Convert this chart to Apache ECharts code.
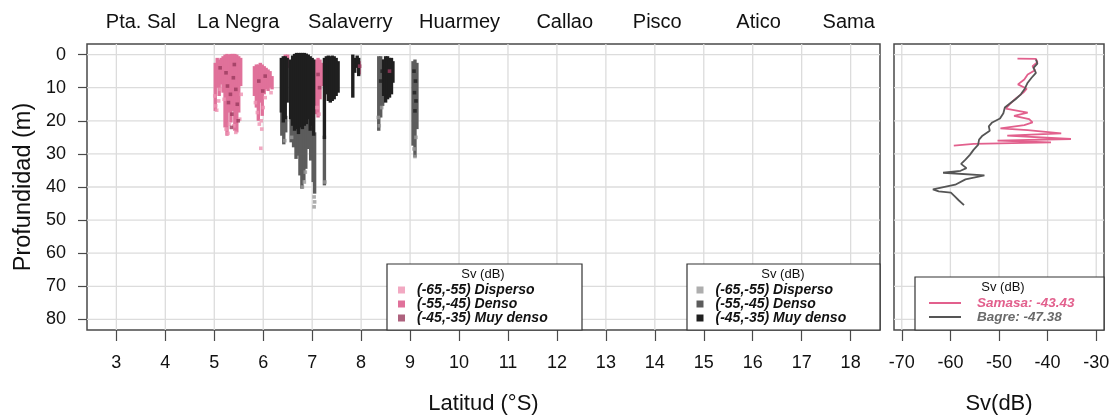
<!DOCTYPE html>
<html>
<head>
<meta charset="utf-8">
<script src="https://cdn.jsdelivr.net/npm/echarts@6/dist/echarts.min.js"></script>
<style>
  html, body { margin: 0; padding: 0; background: #fff; }
  #chart { width: 1110px; height: 416px; }
</style>
</head>
<body>
<div id="chart"></div>
<script>
// ---- tick values ----
const latTicks = [3, 4, 5, 6, 7, 8, 9, 10, 11, 12, 13, 14, 15, 16, 17, 18];
const depthTicks = [0, 10, 20, 30, 40, 50, 60, 70, 80];
const svTicks = [-70, -60, -50, -40, -30];

// ---- reference localities along the coast (label position in °S) ----
const siteNames = ['Pta. Sal', 'La Negra', 'Salaverry', 'Huarmey', 'Callao', 'Pisco', 'Atico', 'Sama'];
const siteLat = [3.50, 5.49, 7.78, 10.01, 12.16, 14.05, 16.12, 17.96];

// ---- Sv classes ----
const svClasses = ['(-65,-55) Disperso', '(-55,-45) Denso', '(-45,-35) Muy denso'];

// ---- Samasa echo columns: [lat °S, top depth m, bottom depth m] ----
const samasaDensoCols = [
  [5.02, 3.0, 16.5], [5.06, 1.5, 9.5], [5.10, 2.0, 12.0], [5.14, 1.5, 8.5], [5.18, 1.0, 11.0],
  [5.22, 0.5, 21.5], [5.26, 0.3, 24.0], [5.30, 0.5, 17.0], [5.34, 0.3, 20.0], [5.38, 0.3, 16.5],
  [5.42, 0.3, 22.5], [5.46, 0.5, 23.0], [5.50, 1.0, 17.0], [5.54, 1.5, 9.0],
  [5.82, 4.0, 12.0], [5.86, 3.5, 15.5], [5.90, 3.5, 19.5], [5.94, 3.0, 14.0], [5.98, 3.5, 18.0],
  [6.02, 4.0, 11.5], [6.06, 4.5, 10.0], [6.10, 5.0, 10.5], [6.14, 5.5, 9.5], [6.18, 7.0, 10.0],
  [6.45, 0.5, 3.0], [6.50, 0.5, 3.5],
  [7.08, 2.0, 17.5], [7.12, 1.5, 18.5], [7.16, 2.0, 13.0], [7.20, 3.0, 9.0],
  [7.96, 2.5, 5.5],
  [8.58, 3.0, 7.5]
];
// ---- Samasa isolated samples: [lat °S, depth m] ----
const samasaDispersoPts = [
  [5.01, 12.5], [5.03, 15.5], [5.05, 16.8], [5.09, 14.0], [5.12, 10.5], [5.20, 13.5], [5.24, 22.5],
  [5.28, 23.8], [5.31, 21.0], [5.40, 21.5], [5.44, 23.5], [5.52, 19.5], [5.55, 12.0], [5.84, 14.5],
  [5.88, 17.5], [5.92, 21.0], [5.96, 20.0], [5.97, 22.5], [5.95, 28.3], [6.00, 16.0], [6.04, 13.0],
  [6.16, 11.5], [7.10, 16.0], [7.14, 18.0]
];
const samasaMuyDensoPts = [
  [5.24, 5.5], [5.27, 9.5], [5.29, 14.5], [5.33, 12.0], [5.36, 18.0], [5.39, 7.0], [5.41, 3.0],
  [5.44, 10.5], [5.47, 15.0], [5.49, 20.0], [5.35, 22.0], [5.12, 4.0], [5.91, 8.0], [5.99, 11.0],
  [6.04, 6.5], [7.12, 6.0], [7.15, 10.0], [7.97, 3.5], [8.58, 5.0]
];

// ---- Bagre echo columns: [lat °S, top depth m, bottom depth m] ----
const bagreMuyDensoCols = [
  [6.37, 1.5, 17.0], [6.41, 1.0, 20.0], [6.45, 1.0, 19.0], [6.49, 1.5, 14.0],
  [6.56, 2.0, 19.0], [6.60, 0.8, 21.0], [6.64, 0.3, 22.5], [6.68, 0.0, 22.0], [6.72, 0.0, 23.5],
  [6.76, 0.0, 21.5], [6.80, 0.0, 22.0], [6.84, 0.0, 21.0], [6.88, 0.2, 20.5], [6.92, 0.5, 19.0],
  [6.96, 1.0, 22.5], [7.00, 1.5, 21.0], [7.03, 2.0, 24.0],
  [7.25, 1.5, 25.0], [7.29, 1.0, 11.5], [7.33, 0.8, 13.5], [7.37, 1.0, 14.0], [7.41, 0.8, 13.5],
  [7.45, 1.0, 13.0], [7.49, 1.5, 12.0], [7.53, 2.5, 11.0],
  [7.83, 0.5, 12.5], [7.87, 1.5, 5.0], [7.92, 0.8, 3.5], [7.95, 1.5, 6.0],
  [8.46, 2.0, 12.0], [8.50, 1.0, 14.0], [8.54, 1.0, 13.0], [8.58, 1.5, 12.5], [8.62, 1.5, 11.5], [8.65, 2.5, 8.0]
];
const bagreDensoCols = [
  [6.38, 17.0, 24.0], [6.42, 20.0, 26.6], [6.46, 19.0, 23.0],
  [6.57, 19.0, 26.0], [6.62, 21.0, 27.5], [6.67, 22.0, 31.0], [6.71, 23.0, 30.0], [6.75, 21.5, 36.0],
  [6.79, 22.0, 40.0], [6.83, 21.0, 37.5], [6.87, 20.5, 34.0], [6.91, 19.0, 28.0], [6.97, 22.5, 31.5],
  [7.02, 21.0, 38.0], [7.05, 24.0, 41.5],
  [7.25, 25.0, 39.0],
  [8.36, 1.0, 22.5], [8.40, 1.0, 18.5], [8.44, 2.0, 15.0],
  [9.06, 2.5, 27.0], [9.10, 2.0, 30.5], [9.14, 3.0, 22.0]
];
// ---- Bagre isolated samples: [lat °S, depth m] ----
const bagreDispersoPts = [
  [6.80, 40.0], [6.84, 38.5], [7.04, 43.0], [7.05, 44.5], [7.04, 46.0], [6.86, 35.5], [7.26, 38.5],
  [9.10, 30.8], [9.08, 28.5], [8.37, 21.5], [8.35, 19.0], [6.44, 26.0], [6.58, 25.0], [9.12, 25.0],
  [8.42, 16.0]
];
const bagreMuyDensoPts = [
  [9.08, 5.0], [9.11, 8.0], [9.09, 11.5], [9.12, 14.0], [9.10, 17.0], [8.40, 8.0], [8.43, 5.0]
];

// ---- mean Sv profiles: [Sv dB, depth m] ----
const samasaProfile = [
  [-46.2, 1.2], [-42.4, 1.3], [-42.1, 2.3], [-43.1, 3.5], [-42.6, 4.7], [-44.1, 6.0], [-44.8, 7.5],
  [-46.1, 9.0], [-44.3, 10.3], [-45.0, 11.5], [-46.6, 13.3], [-47.6, 14.7], [-48.6, 16.3],
  [-44.1, 17.5], [-46.9, 18.5], [-43.8, 19.5], [-43.1, 20.5], [-44.8, 21.3], [-49.7, 22.3],
  [-44.1, 22.8], [-37.2, 23.8], [-48.3, 24.5], [-35.2, 25.5], [-50.3, 26.0], [-39.3, 26.5],
  [-55.2, 27.0], [-59.3, 27.5]
];
const bagreProfile = [
  [-42.4, 1.5], [-42.1, 2.7], [-42.9, 4.0], [-42.4, 5.5], [-43.3, 7.0], [-44.1, 8.5], [-44.7, 10.3],
  [-45.5, 12.0], [-46.6, 13.5], [-47.7, 14.7], [-48.8, 16.0], [-49.1, 17.7], [-49.8, 19.3],
  [-51.4, 20.5], [-52.1, 21.7], [-51.9, 23.0], [-53.4, 24.5], [-54.1, 25.7], [-54.3, 27.3],
  [-55.2, 28.7], [-56.0, 30.3], [-56.9, 31.7], [-57.8, 33.0], [-56.7, 34.3], [-57.9, 35.1],
  [-61.5, 35.7], [-53.0, 36.5], [-56.9, 37.7], [-59.0, 39.3], [-63.6, 40.7], [-62.4, 41.3],
  [-59.9, 41.7], [-59.2, 42.7], [-58.3, 44.0], [-57.2, 45.5]
];
const meanSv = { Samasa: -43.43, Bagre: -47.38 };

// ---- styling ----
const FONT = "'Liberation Sans', Arial, sans-serif";
const INK = '#111';
const FRAME = '#4a4a4a';
const GRIDLINE = '#dcdcdc';
const samasaColors = ['#ef93b3', '#e0719a', '#9a3b5e'];
const bagreColors = ['#9a9a9a', '#5c5c5c', '#1f1f1f'];
const lineColors = { Samasa: '#e2608d', Bagre: '#555555' };

const samasaNames = svClasses.map(c => 'Samasa|' + c);
const bagreNames = svClasses.map(c => 'Bagre|' + c);

function columnSeries(name, color, data) {
  return {
    type: 'custom', name, xAxisIndex: 0, yAxisIndex: 0, z: 3,
    itemStyle: { color },
    encode: { x: 0, y: [1, 2] },
    renderItem(params, api) {
      const a = api.coord([api.value(0), api.value(1)]);
      const b = api.coord([api.value(0), api.value(2)]);
      const w = 3.4;
      return {
        type: 'rect',
        shape: { x: a[0] - w / 2, y: a[1] - w / 2, width: w, height: b[1] - a[1] + w },
        style: { fill: color }
      };
    },
    data
  };
}
function pointSeries(name, color, data) {
  return {
    type: 'scatter', name, xAxisIndex: 0, yAxisIndex: 0, z: 4,
    symbol: 'rect', symbolSize: 3.6,
    itemStyle: { color },
    data
  };
}
// light reference lines at every tick, spanning the whole plot box
function guideSeries(xi, yi, xs) {
  const items = xs.map(v => [v, depthTicks[0], 0]).concat(depthTicks.map(d => [xs[0], d, 1]));
  return {
    type: 'custom', name: 'guides', xAxisIndex: xi, yAxisIndex: yi, z: 1, silent: true,
    renderItem(params, api) {
      const cs = params.coordSys;
      const p = api.coord([api.value(0), api.value(1)]);
      const shape = api.value(2) === 0
        ? { x1: p[0], y1: cs.y, x2: p[0], y2: cs.y + cs.height }
        : { x1: cs.x, y1: p[1], x2: cs.x + cs.width, y2: p[1] };
      return { type: 'line', shape, style: { stroke: GRIDLINE, lineWidth: 1.3 } };
    },
    data: items
  };
}

const tickStyle = { color: FRAME, width: 1.2 };
const labelStyle = { color: INK, fontSize: 18, fontFamily: FONT };
const titleStyle = { color: INK, fontSize: 22, fontFamily: FONT };
const legendText = { color: INK, fontSize: 14, fontWeight: 'bold', fontStyle: 'italic', fontFamily: FONT, lineHeight: 14, padding: [0, 0, 0, 7] };
const hiddenLine = { show: false, onZero: false };

const chart = echarts.init(document.getElementById('chart'), null, { renderer: 'canvas' });
chart.setOption({
  animation: false,
  backgroundColor: '#fff',
  grid: [
    { left: 87, top: 44, width: 793, height: 286, outerBoundsMode: 'none', containLabel: false, show: true, backgroundColor: '#fff', borderColor: FRAME, borderWidth: 1.5 },
    { left: 894, top: 44, width: 210, height: 286, outerBoundsMode: 'none', containLabel: false, show: true, backgroundColor: '#fff', borderColor: FRAME, borderWidth: 1.5 }
  ],
  xAxis: [
    {
      gridIndex: 0, type: 'value', position: 'bottom', min: 2.4, max: 18.6,
      axisLine: hiddenLine, splitLine: { show: false },
      axisTick: { customValues: latTicks, length: 11, lineStyle: tickStyle },
      axisLabel: Object.assign({ customValues: latTicks, margin: 24 }, labelStyle),
      name: 'Latitud (°S)', nameLocation: 'middle', nameGap: 63, nameTextStyle: titleStyle
    },
    {
      gridIndex: 1, type: 'value', position: 'bottom', min: -71.6, max: -28.4,
      axisLine: hiddenLine, splitLine: { show: false },
      axisTick: { customValues: svTicks, length: 11, lineStyle: tickStyle },
      axisLabel: Object.assign({ customValues: svTicks, margin: 24 }, labelStyle),
      name: 'Sv(dB)', nameLocation: 'middle', nameGap: 63, nameTextStyle: titleStyle
    },
    {
      gridIndex: 0, type: 'value', position: 'top', min: 2.4, max: 18.6,
      axisLine: hiddenLine, splitLine: { show: false }, axisTick: { show: false },
      axisLabel: {
        customValues: siteLat, margin: 12, color: INK, fontSize: 20, fontFamily: FONT,
        formatter: v => siteNames[siteLat.indexOf(v)]
      }
    }
  ],
  yAxis: [
    {
      gridIndex: 0, type: 'value', position: 'left', inverse: true, min: -3.2, max: 83.2,
      axisLine: hiddenLine, splitLine: { show: false },
      axisTick: { customValues: depthTicks, length: 9, lineStyle: tickStyle },
      axisLabel: Object.assign({ customValues: depthTicks, margin: 21 }, labelStyle),
      name: 'Profundidad (m)', nameLocation: 'middle', nameGap: 42, nameRotate: 90,
      nameTextStyle: Object.assign({}, titleStyle, { fontSize: 23.5 })
    },
    {
      gridIndex: 1, type: 'value', position: 'left', inverse: true, min: -3.2, max: 83.2,
      axisLine: hiddenLine, splitLine: { show: false },
      axisTick: { show: false }, axisLabel: { show: false }
    }
  ],
  legend: [
    {
      left: 398, top: 283, orient: 'vertical', padding: 0, itemGap: 0, z: 10,
      itemWidth: 7, itemHeight: 7, icon: 'rect', selectedMode: false,
      textStyle: legendText, data: samasaNames, formatter: n => n.split('|')[1]
    },
    {
      left: 696.5, top: 283, orient: 'vertical', padding: 0, itemGap: 0, z: 10,
      itemWidth: 7, itemHeight: 7, icon: 'rect', selectedMode: false,
      textStyle: legendText, data: bagreNames, formatter: n => n.split('|')[1]
    },
    {
      left: 929, top: 296, orient: 'vertical', padding: 0, itemGap: 0, z: 10,
      itemWidth: 32, itemHeight: 2, icon: 'rect', symbolKeepAspect: false, selectedMode: false,
      textStyle: Object.assign({}, legendText, { fontSize: 13.5, padding: [0, 0, 0, 11] }),
      data: ['Samasa', 'Bagre'].map(n => ({ name: n, textStyle: { color: n === 'Samasa' ? lineColors.Samasa : '#6a6a6a' } })),
      formatter: n => n + ': ' + meanSv[n].toFixed(2)
    }
  ],
  graphic: [
    { type: 'rect', z: 8, shape: { x: 387, y: 264, width: 195, height: 66 }, style: { fill: '#fff', stroke: '#333', lineWidth: 1.2 } },
    { type: 'rect', z: 8, shape: { x: 687, y: 264, width: 193, height: 66 }, style: { fill: '#fff', stroke: '#333', lineWidth: 1.2 } },
    { type: 'rect', z: 8, shape: { x: 915, y: 277, width: 189, height: 53 }, style: { fill: '#fff', stroke: '#333', lineWidth: 1.2 } },
    { type: 'text', z: 10, style: { text: 'Sv (dB)', x: 483, y: 274, textAlign: 'center', textVerticalAlign: 'middle', font: '13px ' + FONT, fill: INK } },
    { type: 'text', z: 10, style: { text: 'Sv (dB)', x: 783, y: 274, textAlign: 'center', textVerticalAlign: 'middle', font: '13px ' + FONT, fill: INK } },
    { type: 'text', z: 10, style: { text: 'Sv (dB)', x: 1003, y: 287, textAlign: 'center', textVerticalAlign: 'middle', font: '13px ' + FONT, fill: INK } }
  ],
  series: [
    guideSeries(0, 0, latTicks),
    guideSeries(1, 1, svTicks),
    pointSeries(samasaNames[0], samasaColors[0], samasaDispersoPts),
    columnSeries(samasaNames[1], samasaColors[1], samasaDensoCols),
    pointSeries(samasaNames[2], samasaColors[2], samasaMuyDensoPts),
    pointSeries(bagreNames[0], bagreColors[0], bagreDispersoPts),
    columnSeries(bagreNames[1], bagreColors[1], bagreDensoCols),
    columnSeries(bagreNames[2], bagreColors[2], bagreMuyDensoCols),
    pointSeries(bagreNames[2], bagreColors[2], bagreMuyDensoPts),
    {
      type: 'line', name: 'Samasa', xAxisIndex: 1, yAxisIndex: 1, z: 5,
      symbol: 'none', showSymbol: false, color: lineColors.Samasa,
      lineStyle: { color: lineColors.Samasa, width: 1.8 }, data: samasaProfile
    },
    {
      type: 'line', name: 'Bagre', xAxisIndex: 1, yAxisIndex: 1, z: 6,
      symbol: 'none', showSymbol: false, color: lineColors.Bagre,
      lineStyle: { color: lineColors.Bagre, width: 1.8 }, data: bagreProfile
    }
  ]
});
</script>
</body>
</html>
